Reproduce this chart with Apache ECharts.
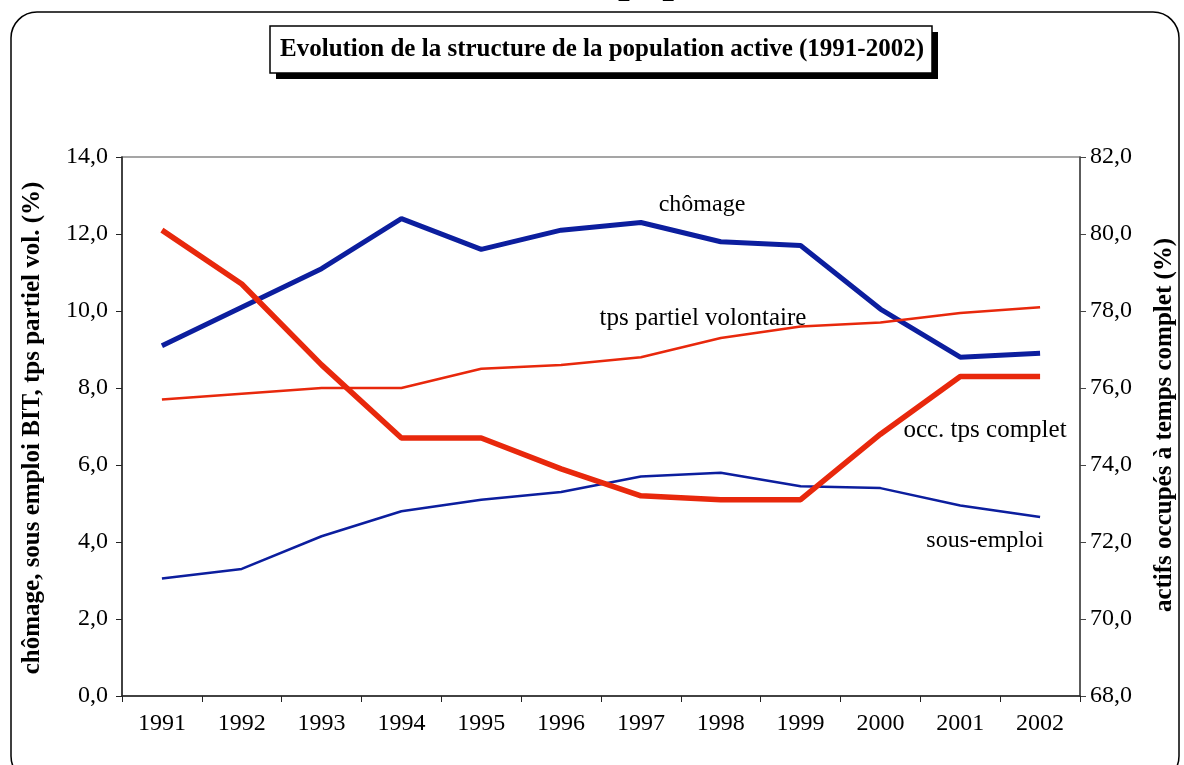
<!DOCTYPE html>
<html>
<head>
<meta charset="utf-8">
<script src="https://cdn.jsdelivr.net/npm/echarts@6/dist/echarts.min.js"></script>
<style>
html,body{margin:0;padding:0;background:#fff;}
#chart{width:1184px;height:765px;}
</style>
</head>
<body>
<div id="chart"></div>
<script>
var years = ['1991','1992','1993','1994','1995','1996','1997','1998','1999','2000','2001','2002'];
var chomage = [9.1, 10.1, 11.1, 12.4, 11.6, 12.1, 12.3, 11.8, 11.7, 10.05, 8.8, 8.9];
var partielVol = [7.7, 7.85, 8.0, 8.0, 8.5, 8.6, 8.8, 9.3, 9.6, 9.7, 9.95, 10.1];
var sousEmploi = [3.05, 3.3, 4.15, 4.8, 5.1, 5.3, 5.7, 5.8, 5.45, 5.4, 4.95, 4.65];
var tpsComplet = [80.1, 78.7, 76.6, 74.7, 74.7, 73.9, 73.2, 73.1, 73.1, 74.8, 76.3, 76.3];

var BLUE = '#0c1e9e';
var RED = '#e8280c';
var FONT = '"Liberation Serif", "Times New Roman", serif';
function fmt(v){ return v.toFixed(1).replace('.', ','); }

var chart = echarts.init(document.getElementById('chart'));
chart.setOption({
  animation: false,
  backgroundColor: '#fff',
  grid: { left: 122, right: 104, top: 157, bottom: 69, show: true, borderColor: '#888', borderWidth: 1.5 },
  xAxis: {
    type: 'category', data: years, boundaryGap: true,
    axisLine: { lineStyle: { color: '#222', width: 1.5 } },
    axisTick: { show: true, alignWithLabel: false, length: 6, lineStyle: { color: '#222' } },
    axisLabel: { fontFamily: FONT, fontSize: 24, color: '#000', margin: 16 }
  },
  yAxis: [{
    type: 'value', min: 0, max: 14, interval: 2,
    axisLine: { show: true, lineStyle: { color: '#222', width: 1.5 } },
    axisTick: { show: true, length: 6, lineStyle: { color: '#222' } },
    splitLine: { show: false },
    axisLabel: { fontFamily: FONT, fontSize: 24, color: '#000', margin: 14, formatter: fmt }
  }, {
    type: 'value', min: 68, max: 82, interval: 2, position: 'right',
    axisLine: { show: true, lineStyle: { color: '#444', width: 1.5 } },
    axisTick: { show: true, length: 6, lineStyle: { color: '#444' } },
    splitLine: { show: false },
    axisLabel: { fontFamily: FONT, fontSize: 24, color: '#000', margin: 10, formatter: fmt }
  }],
  series: [
    { name: 'chômage', type: 'line', data: chomage, yAxisIndex: 0, showSymbol: false, lineStyle: { color: BLUE, width: 5 }, itemStyle: { color: BLUE } },
    { name: 'sous-emploi', type: 'line', data: sousEmploi, yAxisIndex: 0, showSymbol: false, lineStyle: { color: BLUE, width: 2.5 }, itemStyle: { color: BLUE } },
    { name: 'tps partiel volontaire', type: 'line', data: partielVol, yAxisIndex: 0, showSymbol: false, lineStyle: { color: RED, width: 2.5 }, itemStyle: { color: RED } },
    { name: 'occ. tps complet', type: 'line', data: tpsComplet, yAxisIndex: 1, showSymbol: false, lineStyle: { color: RED, width: 5.5 }, itemStyle: { color: RED } }
  ],
  graphic: [
    { type: 'rect', z: 0, shape: { x: 11, y: 12, width: 1168, height: 770, r: 26 }, style: { fill: 'none', stroke: '#000', lineWidth: 1.5 } },
    { type: 'text', style: { text: 'population', x: 618, y: -19, fontFamily: FONT, fontWeight: 'bold', fontSize: 42, fill: '#000', verticalAlign: 'middle' } },
    { type: 'rect', shape: { x: 276, y: 32, width: 662, height: 47 }, style: { fill: '#000' } },
    { type: 'rect', shape: { x: 270, y: 26, width: 662, height: 47 }, style: { fill: '#fff', stroke: '#000', lineWidth: 1.5 } },
    { type: 'text', style: { text: 'Evolution de la structure de la population active (1991-2002)', x: 602, y: 50, align: 'center', verticalAlign: 'middle', fontFamily: FONT, fontWeight: 'bold', fontSize: 25, fill: '#000' } },
    { type: 'text', rotation: Math.PI / 2, x: 33, y: 428, style: { text: 'chômage, sous emploi BIT, tps partiel vol. (%)', align: 'center', verticalAlign: 'middle', fontFamily: FONT, fontWeight: 'bold', fontSize: 25, fill: '#000' } },
    { type: 'text', rotation: Math.PI / 2, x: 1165, y: 425, style: { text: 'actifs occupés à temps complet (%)', align: 'center', verticalAlign: 'middle', fontFamily: FONT, fontWeight: 'bold', fontSize: 25, fill: '#000' } },
    { type: 'text', style: { text: 'chômage', x: 702, y: 205, align: 'center', verticalAlign: 'middle', fontFamily: FONT, fontSize: 24, fill: '#000' } },
    { type: 'text', style: { text: 'tps partiel volontaire', x: 703, y: 318, align: 'center', verticalAlign: 'middle', fontFamily: FONT, fontSize: 25, fill: '#000' } },
    { type: 'text', style: { text: 'occ. tps complet', x: 985, y: 430, align: 'center', verticalAlign: 'middle', fontFamily: FONT, fontSize: 25, fill: '#000' } },
    { type: 'text', style: { text: 'sous-emploi', x: 985, y: 541, align: 'center', verticalAlign: 'middle', fontFamily: FONT, fontSize: 24, fill: '#000' } }
  ]
});
</script>
</body>
</html>
